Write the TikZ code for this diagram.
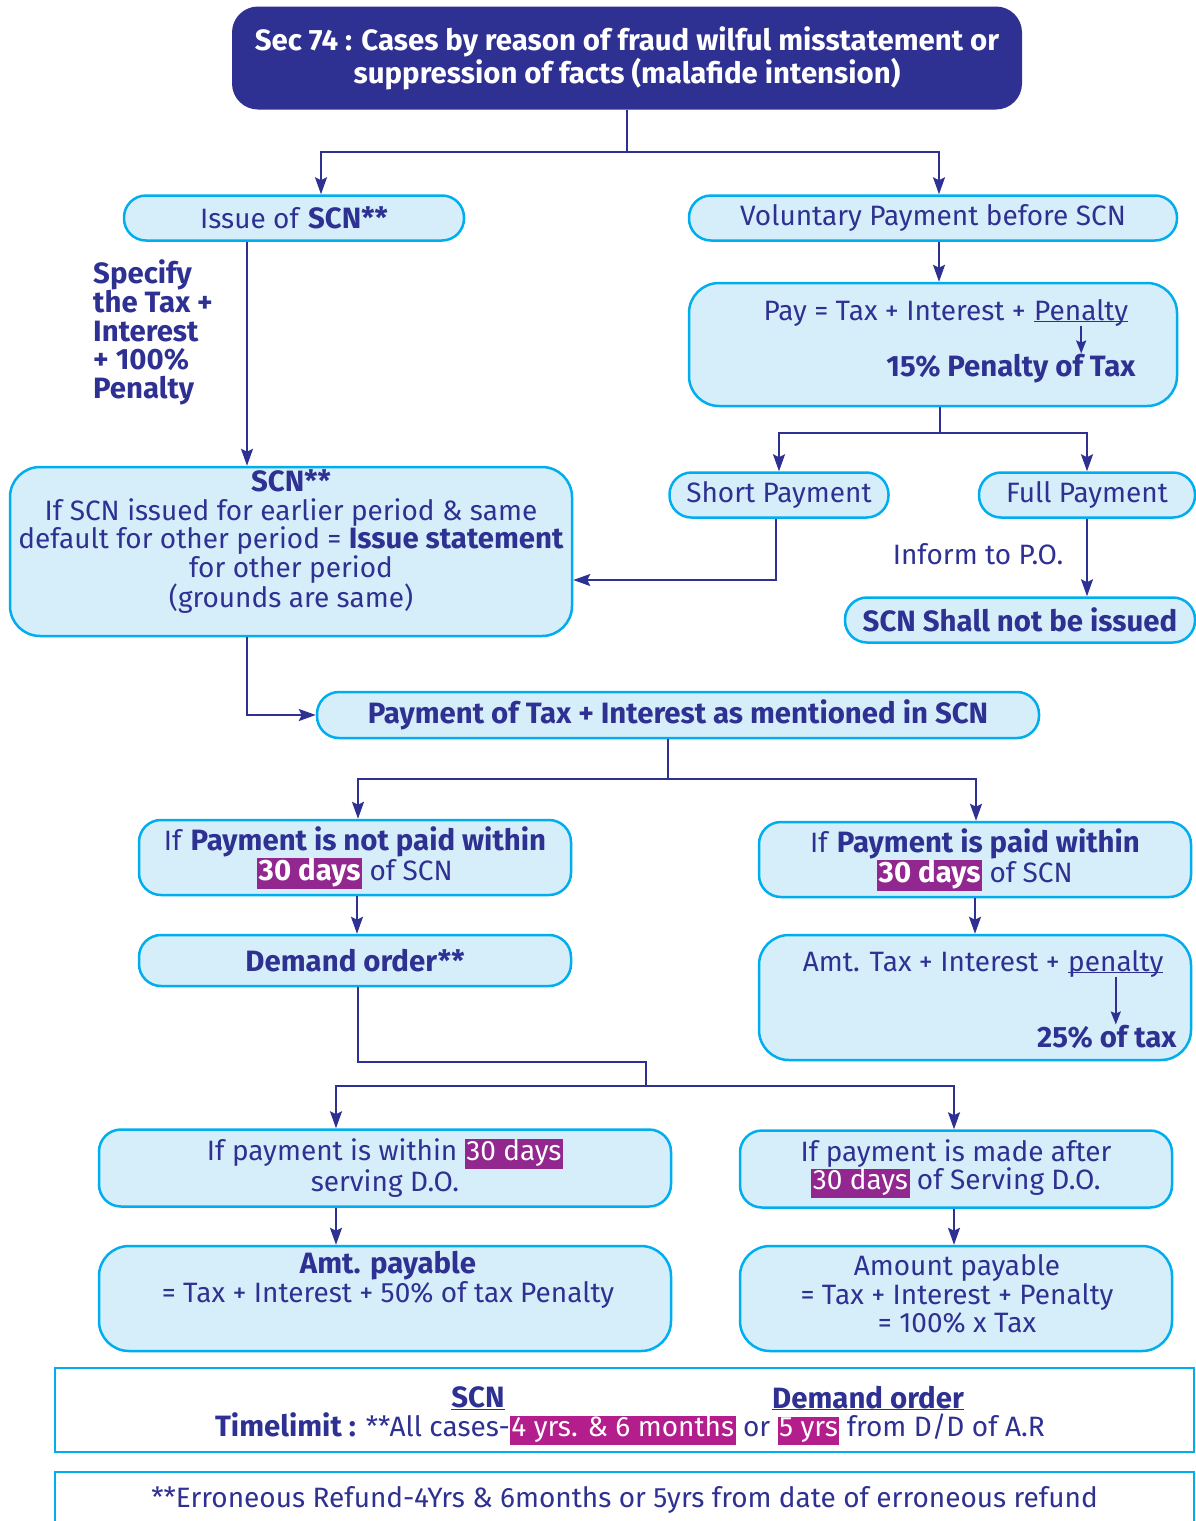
\documentclass[tikz,border=0pt]{standalone}
\usepackage{fontspec}
\setmainfont{Fira Sans}[BoldFeatures={Scale=1.05}]
\usetikzlibrary{arrows.meta}

\definecolor{navy}{RGB}{46,49,146}
\definecolor{boxfill}{RGB}{214,238,250}
\definecolor{boxline}{RGB}{0,174,239}
\definecolor{dayshl}{RGB}{146,39,143}
\definecolor{yrshl}{RGB}{180,30,140}

\newcommand\hlite[2]{{\setlength\fboxsep{0pt}\colorbox{#1}{\textcolor{white}{\strut\kern1.5pt#2\kern1.5pt}}}}
\newcommand\undl[1]{\underline{\smash{#1}}\vphantom{#1}}

\begin{document}
\begin{tikzpicture}[x=1pt,y=-1pt,
  every node/.style={font=\fontsize{28}{28.5}\selectfont, text=navy},
  box/.style={draw=boxline, fill=boxfill, line width=2.5pt, rounded corners=22pt, align=center, inner sep=0pt},
  headbox/.style={fill=navy, rounded corners=26pt, align=center, inner sep=0pt, text=white, font=\fontsize{28}{28.5}\selectfont\bfseries},
  infobox/.style={draw=boxline, fill=white, line width=2.5pt, align=center, inner sep=0pt},
  txt/.style={inner sep=0pt, align=center},
  conn/.style={draw=navy, line width=2.2pt, -{Stealth[length=17pt,width=12pt,inset=3pt]}},
  small/.style={draw=navy, line width=2pt, -{Stealth[length=13pt,width=10pt,inset=2pt]}}]
  \useasboundingbox (0,0) rectangle (1196,1521);
  % title
  \node[headbox, minimum width=790pt, minimum height=103pt] (sec) at (627,58)
    {Sec 74 : Cases by reason of fraud wilful misstatement or\\suppression of facts (malafide intension)};
  % first row
  \node[box, minimum width=340pt, minimum height=45pt] (issue) at (294,218) {Issue of \textbf{SCN**}};
  \node[box, minimum width=488pt, minimum height=45pt] (vol) at (933,218) {Voluntary Payment before SCN};
  % voluntary payment
  \node[box, rounded corners=30pt, minimum width=488pt, minimum height=123pt] (pay) at (933,344.5) {};
  \node[txt, anchor=base west] (paypen) at (1034,320) {\undl{Penalty}};
  \node[txt, anchor=base east] (paytxt) at (1026,320) {Pay = Tax + Interest +};
  \node[txt, anchor=base east] (payrate) at (1136,376) {\textbf{15\% Penalty of Tax}};
  \node[box, minimum width=219pt, minimum height=45pt] (short) at (779,495) {Short Payment};
  \node[box, minimum width=216pt, minimum height=45pt] (full) at (1087,495) {Full Payment};
  \node[txt] (inform) at (978,554) {Inform to P.O.};
  \node[box, minimum width=350pt, minimum height=45pt] (scnno) at (1020,620) {\textbf{SCN Shall not be issued}};
  % issue of SCN
  \node[txt, align=left, anchor=north west] (spec) at (93,259)
    {\textbf{Specify}\\\textbf{the Tax +}\\\textbf{Interest}\\\textbf{+ 100\%}\\\textbf{Penalty}};
  \node[box, rounded corners=30pt, minimum width=562pt, minimum height=169pt] (scn) at (291,551.5) {};
  \node[txt] (scntxt) at (291,542)
    {\textbf{SCN**}\\If SCN issued for earlier period \& same\\default for other period = \textbf{Issue statement}\\for other period\\(grounds are same)};
  \node[box, minimum width=722pt, minimum height=46pt] (payment) at (678,715)
    {\textbf{Payment of Tax + Interest as mentioned in SCN}};
  % 30 days of SCN
  \node[box, minimum width=432pt, minimum height=75pt] (notpaid) at (355,857.5)
    {If \textbf{Payment is not paid within}\\\hlite{dayshl}{\textbf{30 days}} of SCN};
  \node[box, minimum width=432pt, minimum height=75pt] (paid) at (975,859.5)
    {If \textbf{Payment is paid within}\\\hlite{dayshl}{\textbf{30 days}} of SCN};
  \node[box, minimum width=432pt, minimum height=51pt] (demand) at (355,960.5) {\textbf{Demand order**}};
  \node[box, rounded corners=30pt, minimum width=432pt, minimum height=125pt] (amt) at (975,997.5) {};
  \node[txt, anchor=base west] (amtpen) at (1068,971) {\undl{penalty}};
  \node[txt, anchor=base east] (amttxt) at (1060,971) {Amt. Tax + Interest +};
  \node[txt, anchor=base east] (amtrate) at (1177,1047) {\textbf{25\% of tax}};
  % demand order
  \coordinate (split) at (646,1086);
  \node[box, minimum width=572pt, minimum height=77pt] (within) at (385,1168)
    {If payment is within \hlite{dayshl}{30 days}\\serving D.O.};
  \node[box, minimum width=432pt, minimum height=77pt] (after) at (956,1169)
    {If payment is made after\\\hlite{dayshl}{30 days} of Serving D.O.};
  \node[box, rounded corners=30pt, minimum width=572pt, minimum height=105pt] (amtpay) at (385,1298.5) {};
  \node[txt] (amtpaytxt) at (388,1280) {\textbf{Amt. payable}\\= Tax + Interest + 50\% of tax Penalty};
  \node[box, rounded corners=30pt, minimum width=432pt, minimum height=105pt] (amountpay) at (956,1298.5) {};
  \node[txt] (amountpaytxt) at (957,1294) {Amount payable\\= Tax + Interest + Penalty\\= 100\% x Tax};
  % time limits
  \node[infobox, minimum width=1139pt, minimum height=84pt] (limit) at (624.5,1410) {};
  \node[txt] (scnhead) at (478,1398) {\textbf{\undl{SCN}}};
  \node[txt] (dohead) at (868,1398) {\textbf{\undl{Demand order}}};
  \node[txt] (timetxt) at (630,1429)
    {\textbf{Timelimit :} **All cases-\hlite{yrshl}{4 yrs. \& 6 months} or \hlite{yrshl}{5 yrs} from D/D of A.R};
  \node[infobox, minimum width=1139pt, minimum height=56pt] (refund) at (624.5,1500)
    {**Erroneous Refund-4Yrs \& 6months or 5yrs from date of erroneous refund};
  % connectors
  \draw[conn] (sec.south) -- ++(0,42) -| ([xshift=27pt]issue.north);
  \draw[conn] (sec.south) -- ++(0,42) -| ([xshift=6pt]vol.north);
  \draw[conn] ([xshift=6pt]vol.south) -- ([xshift=6pt]pay.north);
  \draw[small] (paypen.south) -- (paypen.south |- payrate.north);
  \draw[conn] ([xshift=7pt]pay.south) -- ++(0,26) -| (short.north);
  \draw[conn] ([xshift=7pt]pay.south) -- ++(0,26) -| (full.north);
  \draw[conn] ([xshift=-3pt]short.south) |- ([yshift=-28.5pt]scn.east);
  \draw[conn] (full.south) -- (full.south |- scnno.north);
  \draw[conn] ([xshift=-47pt]issue.south) -- ([xshift=-47pt]issue.south |- scn.north);
  \draw[conn] ([xshift=-44pt]scn.south) |- (payment.west);
  \draw[conn] ([xshift=-10pt]payment.south) -- ++(0,40) -| ([xshift=3pt]notpaid.north);
  \draw[conn] ([xshift=-10pt]payment.south) -- ++(0,40) -| ([xshift=1pt]paid.north);
  \draw[conn] ([xshift=2pt]notpaid.south) -- ([xshift=2pt]demand.north);
  \draw[conn] (paid.south) -- (amt.north);
  \draw[small] (amtpen.south) -- (amtpen.south |- amtrate.north);
  \draw[conn] ([xshift=3pt]demand.south) -- ++(0,75) -| (split) -| ([xshift=-49pt]within.north);
  \draw[conn] (split) -| ([xshift=-2pt]after.north);
  \draw[conn] ([xshift=-49pt]within.south) -- ([xshift=-49pt]amtpay.north);
  \draw[conn] ([xshift=-2pt]after.south) -- ([xshift=-2pt]amountpay.north);
\end{tikzpicture}
\end{document}
